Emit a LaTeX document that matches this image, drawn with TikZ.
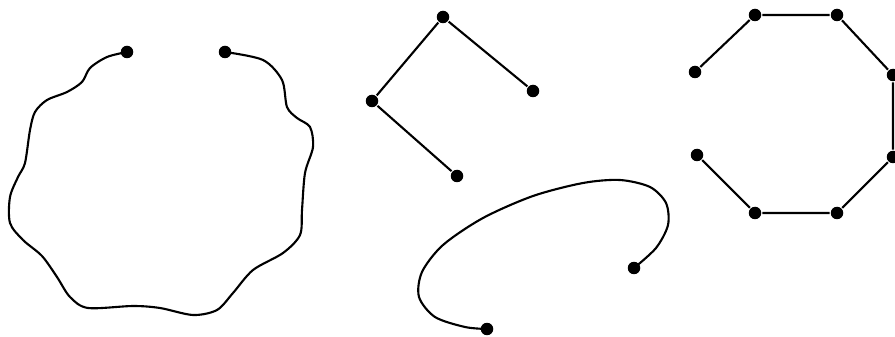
\documentclass[tikz,border=0pt]{standalone}
\begin{document}
\begin{tikzpicture}[x=0.02cm, y=-0.02cm, line width=1.2pt,
    dot/.style={circle, fill=black, inner sep=0pt, minimum size=0.25cm}]
    \useasboundingbox (0,0) rectangle (895,337);

    \node[dot] (wl) at (127,52) {};
    \node[dot] (wr) at (225,52) {};

    \node[dot] (tt) at (443,17) {};
    \node[dot] (tl) at (372,101) {};
    \node[dot] (tr) at (533,91) {};
    \node[dot] (tb) at (457,176) {};

    \node[dot] (cr) at (634,268) {};
    \node[dot] (cb) at (487,329) {};

    \node[dot] (o1) at (695,72) {};
    \node[dot] (o2) at (755,15) {};
    \node[dot] (o3) at (837,15) {};
    \node[dot] (o4) at (893,75) {};
    \node[dot] (o5) at (893,157) {};
    \node[dot] (o6) at (837,213) {};
    \node[dot] (o7) at (755,213) {};
    \node[dot] (o8) at (697,155) {};

    \draw plot[smooth] coordinates {(wl.center) (107,57) (90,68) (82,82) (67,92) (47,100) (35,112) (30,130) (25,163) (18,177) (10,197) (10,223) (23,240) (42,256) (57,277) (70,297) (88,308) (133,306) (160,308) (193,315) (217,310) (233,293) (253,270) (283,253) (300,235) (302,210) (305,173) (313,147) (310,127) (297,118) (287,107) (282,80) (263,60) (wr.center)};

    \draw (tb) -- (tl) -- (tt) -- (tr);

    \draw plot[smooth] coordinates {(cb.center) (465,327) (435,317) (419,297) (422,272) (443,245) (483,218) (533,196) (583,183) (620,180) (650,187) (666,203) (668,225) (656,248) (cr.center)};

    \draw (o1) -- (o2) -- (o3) -- (o4) -- (o5) -- (o6) -- (o7) -- (o8);
\end{tikzpicture}
\end{document}
